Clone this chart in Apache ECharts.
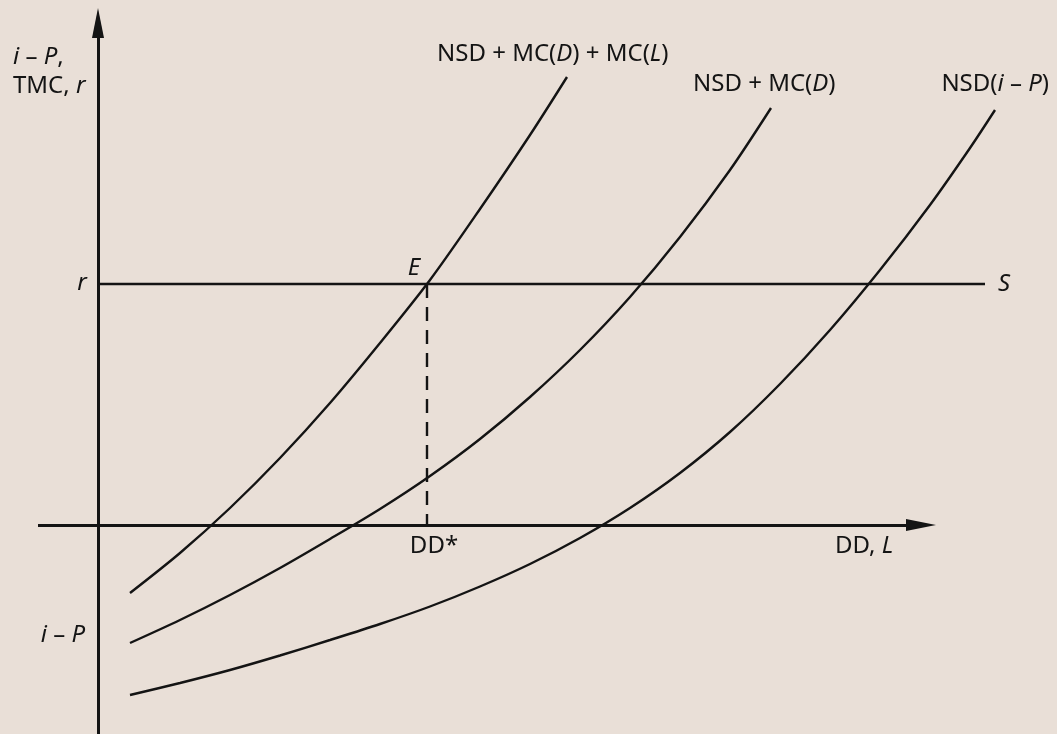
<!DOCTYPE html>
<html>
<head>
<meta charset="utf-8">
<title>NSD, MC and S</title>
<script src="https://cdn.jsdelivr.net/npm/echarts@6/dist/echarts.min.js"></script>
<style>
  html, body { margin: 0; padding: 0; background: #e9dfd7; }
  #chart { width: 1057px; height: 734px; }
</style>
</head>
<body>
<div id="chart"></div>
<script>
// Schematic curves in abstract quantity (x) / rate (y) units.
const curveNames = ['NSD + MC(D) + MC(L)', 'NSD + MC(D)', 'NSD(i – P)'];

// NSD + MC(D) + MC(L)
const curveTotal = [[3.2, -6.8], [8.2, -2.8], [13.2, 1.7], [18.2, 6.7], [23.2, 12.2],
  [28.2, 18.2], [33.2, 24.5], [38.2, 31.6], [43.2, 39.0], [46.9, 44.8]];
// NSD + MC(D)
const curveDeposit = [[3.2, -11.8], [8.2, -9.5], [13.2, -7.0], [18.2, -4.3], [23.2, -1.4],
  [28.2, 1.6], [33.2, 4.9], [38.2, 8.6], [43.2, 12.8], [48.2, 17.5], [53.2, 22.8],
  [58.2, 28.8], [63.2, 35.5], [67.3, 41.7]];
// NSD(i – P)
const curveNsd = [[3.2, -17.0], [8.2, -15.8], [13.2, -14.5], [18.2, -13.05], [23.2, -11.5],
  [28.2, -9.9], [33.2, -8.15], [38.2, -6.15], [43.2, -3.9], [48.2, -1.3], [53.2, 1.7],
  [58.2, 5.2], [63.2, 9.3], [68.2, 14.1], [73.2, 19.5], [78.2, 25.5], [83.2, 32.0],
  [87.2, 37.7], [89.7, 41.5]];

const rLevel = 24.1;      // supply rate r
const ddStar = 32.9;      // equilibrium quantity DD*
const sLineEnd = 88.7;    // right end of the S line
const xAxisRange = [-6, 82.3];
const yAxisRange = [-20.9, 50.2];

const ink = '#141414';
const font = '"Noto Sans", "DejaVu Sans", sans-serif';

const chart = echarts.init(document.getElementById('chart'), null, { renderer: 'canvas' });

function curveSeries(name, data) {
  return {
    name: name,
    type: 'line',
    data: data,
    smooth: 0.3,
    showSymbol: false,
    silent: true,
    clip: false,
    lineStyle: { color: ink, width: 2.4 }
  };
}

const textBase = { fill: ink, fontFamily: font, fontSize: 24 };
const richStyles = {
  it: { fontStyle: 'italic', fontFamily: font, fontSize: 24, fill: ink }
};

function label(x, y, text, align) {
  return {
    type: 'text',
    x: x,
    y: y,
    silent: true,
    style: Object.assign({}, textBase, {
      text: text,
      align: align || 'left',
      verticalAlign: 'middle',
      rich: richStyles
    })
  };
}

chart.setOption({
  backgroundColor: '#e9dfd7',
  animation: false,
  grid: { left: 38, right: 0, top: 10, bottom: 0, containLabel: false },
  xAxis: { type: 'value', min: -6, max: 95.9, show: false },
  yAxis: { type: 'value', min: -20.9, max: 51.5, show: false },
  series: [
    {
      name: 'axes',
      type: 'line',
      data: [],
      silent: true,
      clip: false,
      markLine: {
        silent: true,
        animation: false,
        symbol: ['none', 'triangle'],
        symbolSize: [12, 30],
        label: { show: false },
        emphasis: { disabled: true },
        lineStyle: { color: ink, width: 3, type: 'solid' },
        itemStyle: { color: ink },
        data: [
          [{ coord: [xAxisRange[0], 0] }, { coord: [xAxisRange[1], 0] }],
          [{ coord: [0, yAxisRange[0]] }, { coord: [0, yAxisRange[1]] }]
        ]
      }
    },
    {
      name: 'S',
      type: 'line',
      data: [],
      silent: true,
      clip: false,
      markLine: {
        silent: true,
        animation: false,
        symbol: ['none', 'none'],
        label: { show: false },
        emphasis: { disabled: true },
        data: [
          [{ coord: [0, rLevel], lineStyle: { color: ink, width: 2.4, type: 'solid' } },
           { coord: [sLineEnd, rLevel] }],
          [{ coord: [ddStar, rLevel], lineStyle: { color: ink, width: 2.4, type: [14, 9] } },
           { coord: [ddStar, 0] }]
        ]
      }
    },
    curveSeries(curveNames[0], curveTotal),
    curveSeries(curveNames[1], curveDeposit),
    curveSeries(curveNames[2], curveNsd)
  ],
  graphic: [
    label(13, 57, '{it|i} – {it|P},'),
    label(13, 86, 'TMC, {it|r}'),
    label(82, 283, '{it|r}', 'center'),
    label(63, 635, '{it|i} – {it|P}', 'center'),
    label(437, 54, 'NSD + MC({it|D}) + MC({it|L})'),
    label(693, 84, 'NSD + MC({it|D})'),
    label(1049, 84, 'NSD({it|i} – {it|P})', 'right'),
    label(414, 268, '{it|E}', 'center'),
    label(1004, 284, '{it|S}', 'center'),
    label(434, 546, 'DD*', 'center'),
    label(864, 546, 'DD, {it|L}', 'center')
  ]
});
</script>
</body>
</html>
